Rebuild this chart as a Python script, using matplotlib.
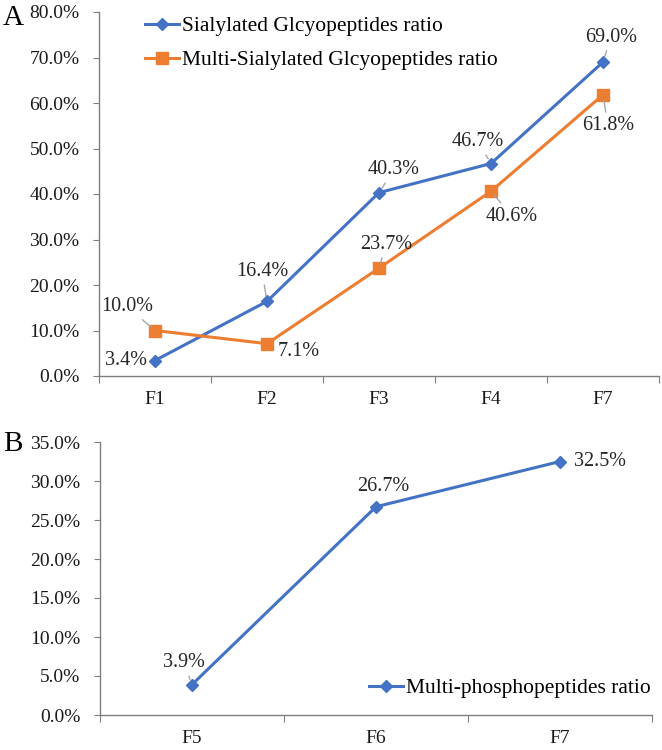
import matplotlib
matplotlib.use("Agg")
import matplotlib.pyplot as plt
import numpy as np
from matplotlib.ticker import FuncFormatter, FixedLocator, NullFormatter

plt.rcParams['font.family'] = ['Liberation Serif', 'DejaVu Serif']

# ---- data ----
cats_a = ["F1", "F2", "F3", "F4", "F7"]
sialylated = [3.4, 16.4, 40.3, 46.7, 69.0]
multi_sialylated = [10.0, 7.1, 23.7, 40.6, 61.8]
cats_b = ["F5", "F6", "F7"]
multi_phospho = [3.9, 26.7, 32.5]

label_a1 = "Sialylated Glcyopeptides ratio"
label_a2 = "Multi-Sialylated Glcyopeptides ratio"
label_b = "Multi-phosphopeptides ratio"

# label offsets (pixels) and whether a leader line is drawn
off_a1 = [(-29, 0, False), (-5, 30, True), (15, 23, True), (-13, 22, True), (8, 25, True)]
off_a2 = [(-28, 24, True), (32, -8, False), (7, 24, True), (21, -25, True), (5, -31, True)]
off_b = [(-8, 22, True), (7, 20, False), (40, 0, False)]

BLUE = "#4472C4"
ORANGE = "#ED7D31"
GRAY = "#A6A6A6"
AXC = "#7F7F7F"
FS_TICK = 14
FS_LAB = 14.5
FS_LEG = 15.5

fig = plt.figure(figsize=(6.62, 7.5), dpi=100)
axA = fig.add_axes([99/662, 1-376/750, 560/662, 364/750])
axB = fig.add_axes([100/662, 1-715/750, 552/662, 273/750])

pct = FuncFormatter(lambda v, p: f"{v:.1f}%")


def style(ax, n, ymax, ystep):
    for s in ["top", "right"]:
        ax.spines[s].set_visible(False)
    for s in ["left", "bottom"]:
        ax.spines[s].set_color(AXC)
        ax.spines[s].set_linewidth(1.0)
    ax.set_xlim(-0.5, n - 0.5)
    ax.set_ylim(0, ymax)
    ax.set_yticks(np.arange(0, ymax + 0.01, ystep))
    ax.yaxis.set_major_formatter(pct)
    ax.xaxis.set_major_locator(FixedLocator([i - 0.5 for i in range(n + 1)]))
    ax.xaxis.set_major_formatter(NullFormatter())
    ax.tick_params(axis='y', which='both', length=4, color=AXC, labelsize=FS_TICK, pad=10,
                   labelcolor='#1a1a1a')
    ax.tick_params(axis='x', which='major', length=5, color=AXC, direction='out')
    ax.tick_params(axis='x', which='minor', length=0, labelsize=FS_TICK, pad=11,
                   labelcolor='#1a1a1a')


def annotate(ax, xs, ys, offs):
    for x, y, (dx, dy, line) in zip(xs, ys, offs):
        kw = {}
        if line:
            kw["arrowprops"] = dict(arrowstyle='-', color=GRAY, lw=1.0,
                                    shrinkA=1, shrinkB=4)
        ax.annotate(f"{y:.1f}%", xy=(x, y), xytext=(dx, dy),
                    textcoords='offset pixels', ha='center', va='center',
                    fontsize=FS_LAB, color='#262626', **kw)


# Panel A
style(axA, len(cats_a), 80, 10)
xa = list(range(len(cats_a)))
axA.set_xticks(xa, minor=True)
axA.set_xticklabels(cats_a, minor=True)
axA.plot(xa, sialylated, color=BLUE, lw=2.2, marker='D', ms=6, label=label_a1, zorder=3)
axA.plot(xa, multi_sialylated, color=ORANGE, lw=2.2, marker='s', ms=8, label=label_a2, zorder=3)
annotate(axA, xa, sialylated, off_a1)
annotate(axA, xa, multi_sialylated, off_a2)
axA.legend(loc='upper left', bbox_to_anchor=(145/662, 1-16/750),
           bbox_transform=fig.transFigure, frameon=False, fontsize=FS_LEG,
           handlelength=1.6, handletextpad=0.1, labelspacing=0.65,
           borderpad=0, borderaxespad=0)

# Panel B
style(axB, len(cats_b), 35, 5)
xb = list(range(len(cats_b)))
axB.set_xticks(xb, minor=True)
axB.set_xticklabels(cats_b, minor=True)
axB.plot(xb, multi_phospho, color=BLUE, lw=2.2, marker='D', ms=6, label=label_b, zorder=3)
annotate(axB, xb, multi_phospho, off_b)
axB.legend(loc='center left', bbox_to_anchor=(369/662, 1-688/750),
           bbox_transform=fig.transFigure, frameon=False, fontsize=FS_LEG,
           handlelength=1.6, handletextpad=0.1, borderpad=0, borderaxespad=0)

fig.text(13/662, 1-18/750, "A", fontsize=21, ha='center', va='center')
fig.text(13/662, 1-444/750, "B", fontsize=21, ha='center', va='center')

fig.savefig("out.png", dpi=100)
